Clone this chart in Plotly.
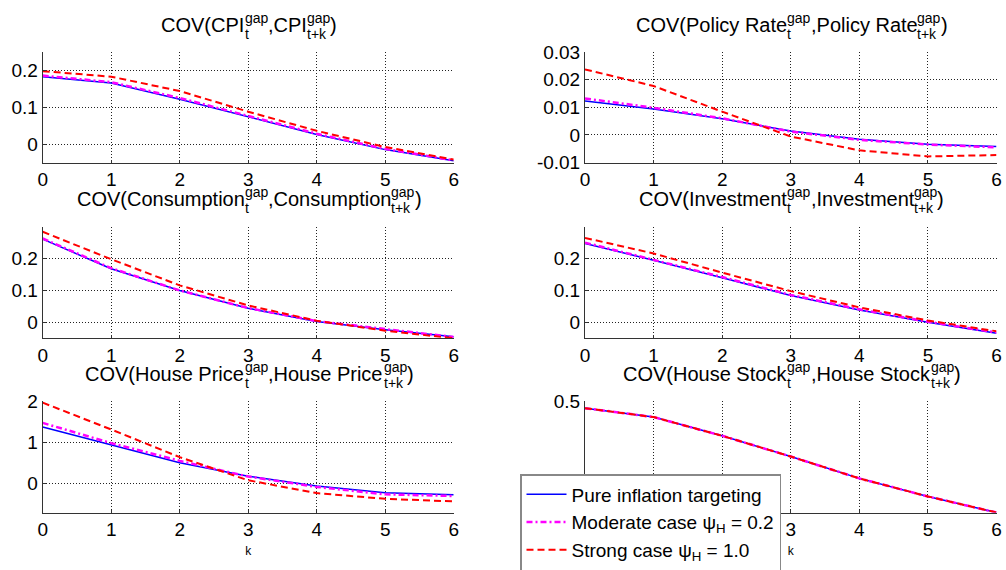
import plotly.graph_objects as go

# ---------------- data ----------------
k = [0, 1, 2, 3, 4, 5, 6]

panel_names = ["CPI", "Policy Rate", "Consumption", "Investment", "House Price", "House Stock"]
series_names = ["Pure inflation targeting",
                "Moderate case ψ<sub>H</sub> = 0.2",
                "Strong case ψ<sub>H</sub> = 1.0"]

cpi_pure = [0.183, 0.166, 0.122, 0.074, 0.026, -0.015, -0.045]
cpi_moderate = [0.186, 0.168, 0.125, 0.076, 0.028, -0.013, -0.044]
cpi_strong = [0.198, 0.183, 0.144, 0.088, 0.036, -0.008, -0.042]

rate_pure = [0.0123, 0.0094, 0.0058, 0.0014, -0.0016, -0.0034, -0.0042]
rate_moderate = [0.0132, 0.0098, 0.0060, 0.0012, -0.0018, -0.0035, -0.0045]
rate_strong = [0.0237, 0.0177, 0.0084, -0.0006, -0.0056, -0.0078, -0.0073]

cons_pure = [0.261, 0.168, 0.100, 0.044, 0.003, -0.023, -0.045]
cons_moderate = [0.263, 0.170, 0.100, 0.045, 0.004, -0.022, -0.046]
cons_strong = [0.284, 0.198, 0.116, 0.053, 0.005, -0.026, -0.050]

inv_pure = [0.247, 0.195, 0.140, 0.084, 0.039, 0.000, -0.034]
inv_moderate = [0.250, 0.197, 0.142, 0.086, 0.041, 0.002, -0.032]
inv_strong = [0.265, 0.216, 0.156, 0.098, 0.047, 0.006, -0.028]

hp_pure = [1.37, 0.94, 0.505, 0.18, -0.06, -0.22, -0.27]
hp_moderate = [1.47, 0.98, 0.55, 0.17, -0.08, -0.26, -0.30]
hp_strong = [1.96, 1.31, 0.64, 0.08, -0.23, -0.37, -0.43]

hs_pure = [0.468, 0.428, 0.344, 0.251, 0.153, 0.072, 0.0]
hs_moderate = [0.468, 0.428, 0.344, 0.251, 0.153, 0.072, 0.0]
hs_strong = [0.468, 0.428, 0.344, 0.251, 0.153, 0.072, 0.0]

panel_data = [
    (cpi_pure, cpi_moderate, cpi_strong),
    (rate_pure, rate_moderate, rate_strong),
    (cons_pure, cons_moderate, cons_strong),
    (inv_pure, inv_moderate, inv_strong),
    (hp_pure, hp_moderate, hp_strong),
    (hs_pure, hs_moderate, hs_strong),
]

y_ranges = [[-0.05, 0.25], [-0.01, 0.03], [-0.05, 0.3], [-0.05, 0.3], [-0.7, 2], [0, 0.5]]
y_tickvals = [[0, 0.1, 0.2], [-0.01, 0, 0.01, 0.02, 0.03], [0, 0.1, 0.2], [0, 0.1, 0.2],
              [0, 1, 2], [0, 0.5]]
y_ticktext = [["0", "0.1", "0.2"], ["-0.01", "0", "0.01", "0.02", "0.03"], ["0", "0.1", "0.2"],
              ["0", "0.1", "0.2"], ["0", "1", "2"], ["0", "0.5"]]
x_ticks = [0, 1, 2, 3, 4, 5, 6]

# ---------------- styling ----------------
W, H = 1006, 570
FONT = "Liberation Sans, Arial, sans-serif"
colors = ["#0000FF", "#FF00FF", "#FF0000"]
dashes = ["solid", "6px,3px,2px,3px", "7px,4px"]
widths = [1.5, 2.5, 2.0]
GRID_DASH = "1px,2px"

col_px = [(42.7, 453.7), (585.0, 996.5)]
row_px = [(52.0, 162.5), (226.7, 338.3), (401.0, 512.5)]

def px_x(p):
    return p / W

def px_y(p):
    return 1 - p / H

fig = go.Figure()

for i in range(6):
    r, c = divmod(i, 2)
    ax = "" if i == 0 else str(i + 1)
    for s in range(3):
        fig.add_trace(go.Scatter(
            x=k, y=panel_data[i][s], mode="lines",
            name=series_names[s], legendgroup=str(s), showlegend=(i == 0),
            line=dict(color=colors[s], width=widths[s], dash=dashes[s]),
            xaxis="x" + ax, yaxis="y" + ax, hoverinfo="skip",
        ))
    xa = dict(domain=[px_x(col_px[c][0]), px_x(col_px[c][1])], range=[0, 6],
              anchor="y" + ax, tickvals=x_ticks, ticktext=[str(v) for v in x_ticks],
              showgrid=True, gridcolor="#222222", griddash=GRID_DASH, gridwidth=1,
              zeroline=False, showline=True, linecolor="#333333", linewidth=1,
              ticks="inside", ticklen=3, tickcolor="#333333", automargin=False,
              tickfont=dict(family=FONT, size=19, color="black"))
    if r == 2:
        xa["title"] = dict(text="k", font=dict(family=FONT, size=12, color="black"), standoff=7)
    ya = dict(domain=[px_y(row_px[r][1]), px_y(row_px[r][0])], range=y_ranges[i],
              anchor="x" + ax, tickvals=y_tickvals[i], ticktext=y_ticktext[i],
              showgrid=True, gridcolor="#222222", griddash=GRID_DASH, gridwidth=1,
              zeroline=False, showline=True, linecolor="#333333", linewidth=1,
              ticks="inside", ticklen=3, tickcolor="#333333", automargin=False,
              tickfont=dict(family=FONT, size=19, color="black"))
    fig.layout["xaxis" + ax] = xa
    fig.layout["yaxis" + ax] = ya

# ---------------- titles with stacked sub/superscripts ----------------
CW = {"C": 722, "O": 778, "V": 667, "(": 333, ")": 333, "P": 667, "I": 278, ",": 278,
      " ": 278, "o": 556, "l": 222, "i": 222, "c": 500, "y": 500, "R": 722, "a": 556,
      "t": 278, "e": 556, "n": 556, "s": 500, "u": 556, "m": 833, "p": 556, "v": 500,
      "H": 778, "r": 333, "S": 667, "k": 500, "g": 556, "+": 584}

def tw(txt, size):
    return sum(CW[ch] for ch in txt) * size / 1000.0

MAIN, SCRIPT = 20, 14
annotations = []

def add_text(txt, x_left, baseline, size):
    annotations.append(dict(
        text=txt, x=px_x(x_left), y=px_y(baseline - 0.35 * size),
        xref="paper", yref="paper", xanchor="left", yanchor="middle",
        showarrow=False, borderpad=0,
        font=dict(family=FONT, size=size, color="black")))

for i, nm in enumerate(panel_names):
    r, c = divmod(i, 2)
    center = (col_px[c][0] + col_px[c][1]) / 2
    p1 = "COV(" + nm
    p2 = "," + nm
    gw = tw("gap", SCRIPT)
    total = tw(p1, MAIN) + gw + tw(p2, MAIN) + gw + tw(")", MAIN)
    x0 = center - total / 2
    base = row_px[r][0] - 20.5
    s1 = x0 + tw(p1, MAIN)
    x2 = s1 + gw
    s2 = x2 + tw(p2, MAIN)
    x3 = s2 + gw
    add_text(p1, x0, base, MAIN)
    add_text("gap", s1, base - 9, SCRIPT)
    add_text("t", s1, base + 7, SCRIPT)
    add_text(p2, x2, base, MAIN)
    add_text("gap", s2, base - 9, SCRIPT)
    add_text("t+k", s2, base + 7, SCRIPT)
    add_text(")", x3, base, MAIN)

fig.update_layout(
    width=W, height=H,
    margin=dict(l=0, r=0, t=0, b=0, autoexpand=False),
    paper_bgcolor="white", plot_bgcolor="white",
    annotations=annotations,
    showlegend=True,
    hovermode=False,
    legend=dict(x=px_x(520), y=px_y(474), xanchor="left", yanchor="top",
                bgcolor="white", bordercolor="#888888", borderwidth=1.5,
                font=dict(family=FONT, size=19, color="black"),
                itemwidth=40, tracegroupgap=0),
)

fig.write_html("out.html", config={"displayModeBar": False},
               post_script="document.body.style.margin='0';")
